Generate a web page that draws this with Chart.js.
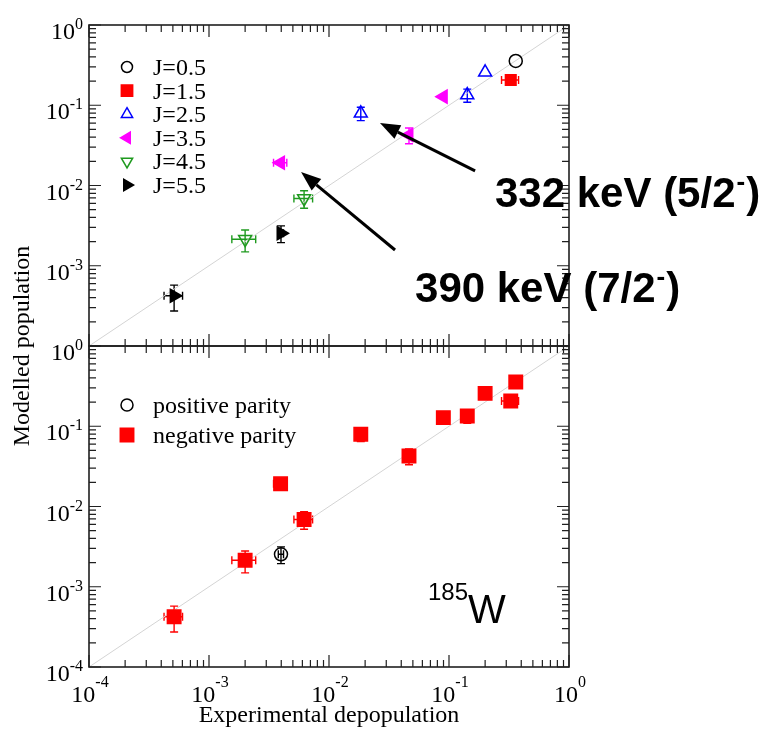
<!DOCTYPE html>
<html>
<head>
<meta charset="utf-8">
<script src="https://cdn.jsdelivr.net/npm/chart.js@4.4.1/dist/chart.umd.min.js"></script>
<style>
  html, body { margin: 0; padding: 0; background: #ffffff; }
  #wrap { position: relative; width: 767px; height: 731px; }
  #wrap canvas { position: absolute; left: 0; top: 0; }
</style>
</head>
<body>
<div id="wrap">
  <canvas id="spinPanel" width="767" height="731"></canvas>
  <canvas id="parityPanel" width="767" height="731"></canvas>
</div>
<script>
// 185W level populations: experimental depopulation vs. modelled population
const levelSpin   = [0.5, 1.5, 2.5, 2.5, 2.5, 3.5, 3.5, 3.5, 4.5, 4.5, 5.5, 5.5];
const levelParity = ['-', '-', '-', '-', '-', '-', '-', '-', '-', '-', '-', '+'];
const expDepop    = [0.360, 0.327, 0.200, 0.142, 0.0184, 0.0897, 0.0464, 0.00395, 0.00200, 0.0062, 0.000512, 0.00398];
const expErr      = [0, 0.053, 0, 0, 0, 0, 0, 0.0005, 0.00045, 0.0011, 0.00009, 0.0002];
const modPop      = [0.356, 0.206, 0.257, 0.134, 0.0794, 0.128, 0.0426, 0.0192, 0.00214, 0.0069, 0.000423, 0.00254];
const modErr      = [0, 0, 0, 0.025, 0.015, 0, 0.0095, 0, 0.00065, 0.0017, 0.00015, 0.0006];

const spinValues   = [0.5, 1.5, 2.5, 3.5, 4.5, 5.5];
const spinLabels   = ['J=0.5', 'J=1.5', 'J=2.5', 'J=3.5', 'J=4.5', 'J=5.5'];
const parityValues = ['+', '-'];
const parityLabels = ['positive parity', 'negative parity'];

const decadeExponents = [-4, -3, -2, -1, 0];
const xTitle = 'Experimental depopulation';
const yTitle = 'Modelled population';

// arrow annotations (data coordinates of tail, tip and label anchor)
const noteText  = ['332 keV (5/2', '390 keV (7/2'];
const noteSup   = ['-', '-'];
const noteTail  = [[0.165, 0.0152], [0.0355, 0.00157]];
const noteTip   = [[0.0266, 0.060], [0.00585, 0.0147]];
const noteLabel = [[0.2417, 0.00540], [0.0521, 0.000353]];
const nucleusMass = '185';
const nucleusSym  = 'W';

// ---------- styles ----------
const SERIF = '"Liberation Serif", "Times New Roman", serif';
const SANS  = '"Liberation Sans", Arial, sans-serif';

const spinStyle = [
  { pointStyle: 'circle',   rotation: 0,   color: '#000000', filled: false, radius: 6.5, legendRadius: 5.5 },
  { pointStyle: 'rect',     rotation: 0,   color: '#ff0000', filled: true,  radius: 7.5, legendRadius: 8 },
  { pointStyle: 'triangle', rotation: 0,   color: '#0000ff', filled: false, radius: 7.5, legendRadius: 6.5 },
  { pointStyle: 'triangle', rotation: -90, color: '#ff00ff', filled: true,  radius: 7.5, legendRadius: 6.5 },
  { pointStyle: 'triangle', rotation: 180, color: '#1f9a1f', filled: false, radius: 7.5, legendRadius: 6.5 },
  { pointStyle: 'triangle', rotation: 90,  color: '#000000', filled: true,  radius: 7.5, legendRadius: 6.5 }
];
const parityStyle = [
  { pointStyle: 'circle', rotation: 0, color: '#000000', filled: false, radius: 6.5, legendRadius: 6 },
  { pointStyle: 'rect',   rotation: 0, color: '#ff0000', filled: true,  radius: 9.5, legendRadius: 9.5 }
];

function pointsWhere(test) {
  const pts = [];
  for (let i = 0; i < expDepop.length; i++) {
    if (test(i)) pts.push({ x: expDepop[i], y: modPop[i], xErr: expErr[i], yErr: modErr[i] });
  }
  return pts;
}

function scatterSet(label, data, st) {
  return {
    type: 'scatter',
    label: label,
    data: data,
    pointStyle: st.pointStyle,
    pointRotation: st.rotation,
    pointRadius: st.radius,
    pointHoverRadius: st.radius,
    pointBorderWidth: 1.5,
    borderColor: st.color,
    backgroundColor: st.filled ? st.color : 'rgba(0,0,0,0)',
    errColor: st.color,
    order: 1
  };
}

function diagonalSet() {
  return {
    type: 'line',
    label: 'y = x',
    data: [{ x: 1e-4, y: 1e-4 }, { x: 1, y: 1 }],
    borderColor: '#d4d4d4',
    borderWidth: 1,
    pointRadius: 0,
    fill: false,
    order: 10
  };
}

// ---------- plugins ----------
const errorBars = {
  id: 'errorBars',
  beforeDatasetsDraw(chart) {
    const { ctx, scales: { x, y } } = chart;
    const cap = 4;
    ctx.save();
    chart.data.datasets.forEach(ds => {
      if (!ds.errColor) return;
      ctx.strokeStyle = ds.errColor;
      ctx.lineWidth = 1.4;
      ds.data.forEach(p => {
        const px = x.getPixelForValue(p.x), py = y.getPixelForValue(p.y);
        if (p.xErr > 0) {
          const x1 = x.getPixelForValue(p.x - p.xErr), x2 = x.getPixelForValue(p.x + p.xErr);
          ctx.beginPath();
          ctx.moveTo(x1, py); ctx.lineTo(x2, py);
          ctx.moveTo(x1, py - cap); ctx.lineTo(x1, py + cap);
          ctx.moveTo(x2, py - cap); ctx.lineTo(x2, py + cap);
          ctx.stroke();
        }
        if (p.yErr > 0) {
          const y1 = y.getPixelForValue(p.y - p.yErr), y2 = y.getPixelForValue(p.y + p.yErr);
          ctx.beginPath();
          ctx.moveTo(px, y1); ctx.lineTo(px, y2);
          ctx.moveTo(px - cap, y1); ctx.lineTo(px + cap, y1);
          ctx.moveTo(px - cap, y2); ctx.lineTo(px + cap, y2);
          ctx.stroke();
        }
      });
    });
    ctx.restore();
  }
};

function powerLabel(ctx, exp, ax, baseY, supY, align) {
  const base = '10', sup = String(exp);
  ctx.font = '24px ' + SERIF;
  const wb = ctx.measureText(base).width;
  ctx.font = '16px ' + SERIF;
  const ws = ctx.measureText(sup).width;
  const x0 = align === 'right' ? ax - wb - ws : ax - (wb + ws) / 2;
  ctx.textAlign = 'left';
  ctx.textBaseline = 'alphabetic';
  ctx.font = '24px ' + SERIF;
  ctx.fillText(base, x0, baseY);
  ctx.font = '16px ' + SERIF;
  ctx.fillText(sup, x0 + wb, supY);
}

function drawSymbol(ctx, st, r, cx, cy) {
  ctx.save();
  ctx.strokeStyle = st.color;
  ctx.fillStyle = st.filled ? st.color : 'rgba(0,0,0,0)';
  ctx.lineWidth = 1.5;
  Chart.helpers.drawPoint(ctx, { pointStyle: st.pointStyle, rotation: st.rotation, radius: r, borderWidth: 1.5 }, cx, cy);
  ctx.restore();
}

const frameAxes = {
  id: 'frameAxes',
  afterDraw(chart, args, opts) {
    const { ctx, chartArea: a, scales: { x, y } } = chart;
    const MAJ = 12, MIN = 7;
    ctx.save();
    ctx.strokeStyle = '#202020';
    ctx.fillStyle = '#000000';
    ctx.lineWidth = 1.6;
    ctx.strokeRect(a.left, a.top, a.right - a.left, a.bottom - a.top);
    ctx.lineWidth = 1.2;
    ctx.beginPath();
    decadeExponents.forEach(e => {
      const d = Math.pow(10, e);
      const ticks = [[d, MAJ]];
      if (e < 0) for (let k = 2; k <= 9; k++) ticks.push([k * d, MIN]);
      ticks.forEach(([v, len]) => {
        const px = x.getPixelForValue(v);
        ctx.moveTo(px, a.bottom); ctx.lineTo(px, a.bottom - len);
        ctx.moveTo(px, a.top); ctx.lineTo(px, a.top + len);
        const py = y.getPixelForValue(v);
        ctx.moveTo(a.left, py); ctx.lineTo(a.left + len, py);
        ctx.moveTo(a.right, py); ctx.lineTo(a.right - len, py);
      });
    });
    ctx.stroke();

    // tick labels
    decadeExponents.forEach(e => {
      const v = Math.pow(10, e);
      if (opts.yLabelMin <= e) {
        const py = y.getPixelForValue(v);
        powerLabel(ctx, e, a.left - 6, py + 14, py + 4, 'right');
      }
      if (opts.xLabels) {
        const px = x.getPixelForValue(v);
        powerLabel(ctx, e, px + 1, a.bottom + 35, a.bottom + 20, 'center');
      }
    });

    // legend
    const lg = opts.legend;
    lg.labels.forEach((txt, i) => {
      const cy = lg.top + i * lg.step;
      const st = lg.styles[i];
      drawSymbol(ctx, st, st.legendRadius, lg.left, cy);
      ctx.fillStyle = '#000000';
      ctx.font = '24px ' + SERIF;
      ctx.textAlign = 'left';
      ctx.textBaseline = 'alphabetic';
      ctx.fillText(txt, lg.left + 26, cy + 8);
    });

    if (opts.titles) {
      ctx.fillStyle = '#000000';
      ctx.font = '24px ' + SERIF;
      ctx.textAlign = 'center';
      ctx.textBaseline = 'alphabetic';
      ctx.fillText(xTitle, (a.left + a.right) / 2, a.bottom + 55);
      ctx.save();
      ctx.translate(29, a.top);
      ctx.rotate(-Math.PI / 2);
      ctx.fillText(yTitle, 0, 0);
      ctx.restore();
    }

    if (opts.arrows) {
      noteTail.forEach((tail, i) => {
        const tx = x.getPixelForValue(tail[0]), ty = y.getPixelForValue(tail[1]);
        const hx = x.getPixelForValue(noteTip[i][0]), hy = y.getPixelForValue(noteTip[i][1]);
        const ang = Math.atan2(hy - ty, hx - tx);
        const headLen = 20, headHalf = 7.5;
        const bx = hx - headLen * Math.cos(ang), by = hy - headLen * Math.sin(ang);
        ctx.strokeStyle = '#000000';
        ctx.fillStyle = '#000000';
        ctx.lineWidth = 3;
        ctx.beginPath();
        ctx.moveTo(tx, ty); ctx.lineTo(bx, by);
        ctx.stroke();
        ctx.beginPath();
        ctx.moveTo(hx, hy);
        ctx.lineTo(bx + headHalf * Math.sin(ang), by - headHalf * Math.cos(ang));
        ctx.lineTo(bx - headHalf * Math.sin(ang), by + headHalf * Math.cos(ang));
        ctx.closePath();
        ctx.fill();

        const lx = x.getPixelForValue(noteLabel[i][0]), ly = y.getPixelForValue(noteLabel[i][1]);
        ctx.textAlign = 'left';
        ctx.textBaseline = 'alphabetic';
        ctx.font = 'bold 42px ' + SANS;
        ctx.fillText(noteText[i], lx, ly);
        const w1 = ctx.measureText(noteText[i]).width;
        ctx.font = 'bold 26px ' + SANS;
        ctx.fillText(noteSup[i], lx + w1 + 1, ly - 17);
        const w2 = ctx.measureText(noteSup[i]).width;
        ctx.font = 'bold 42px ' + SANS;
        ctx.fillText(')', lx + w1 + w2 + 2, ly);
      });
    }

    if (opts.nucleus) {
      ctx.fillStyle = '#000000';
      ctx.textAlign = 'left';
      ctx.textBaseline = 'alphabetic';
      const nx = a.right - 141, ny = a.bottom - 44;
      ctx.font = '24px ' + SANS;
      ctx.fillText(nucleusMass, nx, ny - 23);
      const wm = ctx.measureText(nucleusMass).width;
      ctx.font = '40px ' + SANS;
      ctx.fillText(nucleusSym, nx + wm, ny);
    }
    ctx.restore();
  }
};

function logAxis() {
  return { type: 'logarithmic', min: 1e-4, max: 1, display: false };
}

const commonOptions = (padding, frameOpts) => ({
  responsive: false,
  animation: false,
  layout: { padding: padding },
  scales: { x: logAxis(), y: logAxis() },
  plugins: { legend: { display: false }, tooltip: { enabled: false }, frameAxes: frameOpts },
  events: []
});

// upper panel: grouped by spin
const spinSets = spinValues.map((j, k) =>
  scatterSet(spinLabels[k], pointsWhere(i => levelSpin[i] === j), spinStyle[k]));
spinSets.push(diagonalSet());

new Chart(document.getElementById('spinPanel'), {
  type: 'scatter',
  data: { datasets: spinSets },
  options: commonOptions({ left: 89, right: 767 - 569, top: 25, bottom: 731 - 346 }, {
    yLabelMin: -3, xLabels: false, titles: false, arrows: true, nucleus: false,
    legend: { left: 127, top: 67, step: 23.6, labels: spinLabels, styles: spinStyle }
  }),
  plugins: [errorBars, frameAxes]
});

// lower panel: grouped by parity
const paritySets = parityValues.map((p, k) =>
  scatterSet(parityLabels[k], pointsWhere(i => levelParity[i] === p), parityStyle[k]));
paritySets.push(diagonalSet());

new Chart(document.getElementById('parityPanel'), {
  type: 'scatter',
  data: { datasets: paritySets },
  options: commonOptions({ left: 89, right: 767 - 569, top: 346, bottom: 731 - 667 }, {
    yLabelMin: -4, xLabels: true, titles: true, arrows: false, nucleus: true,
    legend: { left: 127, top: 405, step: 30, labels: parityLabels, styles: parityStyle }
  }),
  plugins: [errorBars, frameAxes]
});
</script>
</body>
</html>
